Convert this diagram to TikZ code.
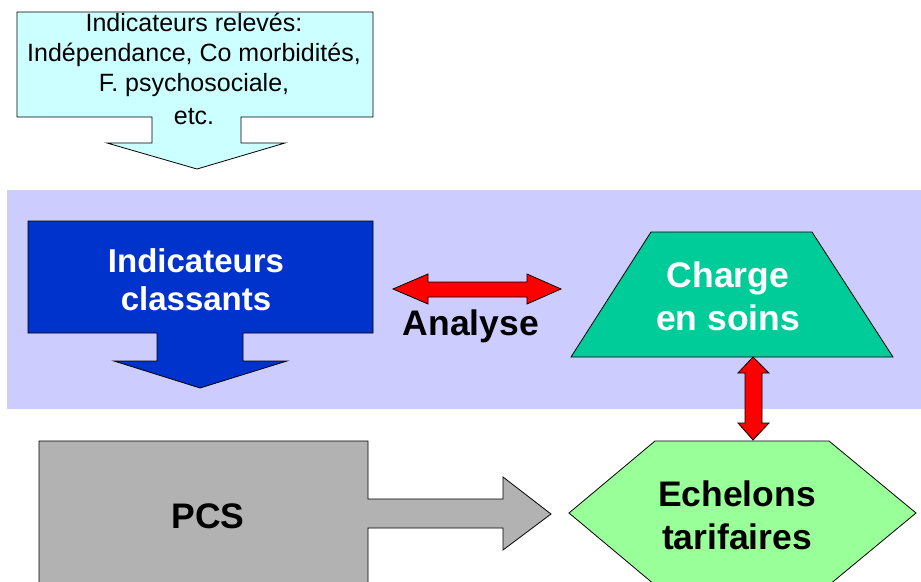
\documentclass[tikz,border=0pt]{standalone}
\usepackage{fontspec}
\setmainfont{Liberation Sans}
\usepackage{xcolor}
\usepackage{tikz}
\definecolor{ccyan}{HTML}{CCFFFF}
\definecolor{cband}{HTML}{CCCCFF}
\definecolor{cblue}{HTML}{0033CC}
\definecolor{cteal}{HTML}{00CC99}
\definecolor{cred}{HTML}{FF0000}
\definecolor{cgray}{HTML}{B2B2B2}
\definecolor{clime}{HTML}{99FF99}
\tikzset{blk/.style={draw=black,line width=0.8pt,line join=miter},
  lbl/.style={font=\fontsize{35.5}{43}\selectfont\bfseries,align=center,inner sep=0pt}}

\begin{document}
\begin{tikzpicture}[x=1pt,y=-1pt]
\useasboundingbox (0,0) rectangle (921,581);
\begin{scope}
\clip (0,0) rectangle (921,581);

% ============ band of the analysis ============
\fill[cband] (7,190) rectangle (921,409);

% ============ top callout: raw indicators ============
\fill[ccyan,blk] (17,12) -- (373,12) -- (373,117) -- (241,117) -- (241,143) -- (285,143)
  -- (197,169) -- (107,143) -- (152,143) -- (152,117) -- (17,117) -- cycle;
% (base anchor = baseline of the last line)
\node[font=\fontsize{25}{30}\selectfont,align=center,inner sep=0pt,anchor=base] (releves) at (194,124)
  {Indicateurs relevés:\\ Indépendance, Co morbidités,\\ F. psychosociale,\\[3pt] etc.};

% ============ blue callout: classifying indicators ============
\fill[cblue,blk] (28,221) -- (373,221) -- (373,333) -- (243,333) -- (243,361) -- (287,361)
  -- (200,388) -- (114,361) -- (157,361) -- (157,333) -- (28,333) -- cycle;
\node[lbl,font=\fontsize{33}{38}\selectfont\bfseries,text=white,anchor=base] (classants) at (196,310)
  {Indicateurs\\ classants};

% ============ trapezoid: care load ============
\fill[cteal,blk] (651,232) -- (812,232) -- (893,357) -- (571,357) -- cycle;
\node[lbl,text=white,anchor=base] (charge) at (728,330) {Charge\\ en soins};

% analysis double arrow
\fill[cred,blk] (393,289) -- (428,274) -- (428,282) -- (527,282) -- (527,274) -- (561,289)
  -- (527,304) -- (527,297) -- (428,297) -- (428,304) -- cycle;
\node[lbl,anchor=base] (analyse) at (471,335) {Analyse};

% ============ grey block arrow: PCS ============
\fill[cgray,blk] (39,441) -- (368,441) -- (368,499) -- (503,499) -- (503,477) -- (551,514)
  -- (503,550) -- (503,528) -- (368,528) -- (368,592) -- (39,592) -- cycle;
\node[lbl,anchor=base] (pcs) at (208,528) {PCS};

% ============ hexagon: tariff levels ============
\fill[clime,blk] (655,441) -- (829,441) -- (916,513) -- (829,585) -- (655,585) -- (569,513) -- cycle;
\node[lbl,anchor=base] (echelons) at (737,549) {Echelons\\ tarifaires};

% vertical double arrow between load and levels
\fill[cred,blk] (753,357) -- (769,373) -- (762,373) -- (762,423) -- (769,423) -- (753,440)
  -- (738,423) -- (745,423) -- (745,373) -- (738,373) -- cycle;

\end{scope}
\end{tikzpicture}
\end{document}
